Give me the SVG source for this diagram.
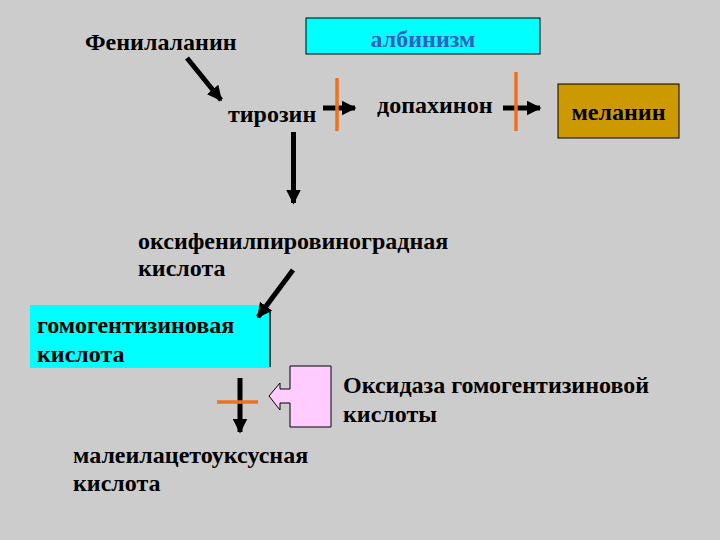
<svg xmlns="http://www.w3.org/2000/svg" width="720" height="540" viewBox="0 0 720 540">
<style>
.t{font-family:"Liberation Serif","Times New Roman",serif;font-size:24px;font-weight:bold;fill:#000}
.c{stroke:#000;stroke-width:5;fill:none}
.inh{stroke:#F07020;stroke-width:3.5;fill:none}
</style>
<defs>
<marker id="ah" viewBox="0 0 10 10" refX="9" refY="5" markerWidth="3" markerHeight="3" markerUnits="strokeWidth" orient="auto">
<path d="M0,0 L10,5 L0,10 Z" fill="#000"/>
</marker>
</defs>
<rect width="720" height="540" fill="#CCCCCC"/>
<g id="albinism">
<rect x="306" y="18" width="234" height="36" fill="#00FFFF" stroke="#000" stroke-width="1"/>
<text class="t" x="423" y="47" text-anchor="middle" style="fill:#3060C0">албинизм</text>
</g>
<g id="phenylalanine"><text class="t" x="85" y="50">Фенилаланин</text></g>
<g id="tyrosine"><text class="t" x="228" y="122">тирозин</text></g>
<g id="dopaquinone"><text class="t" x="377" y="113">допахинон</text></g>
<g id="melanin">
<rect x="558" y="84" width="121" height="54" fill="#CC9900" stroke="#000" stroke-width="1"/>
<text class="t" x="618.5" y="120" text-anchor="middle">меланин</text>
</g>
<g id="hydroxyphenylpyruvate"><text class="t"><tspan x="138" y="249">оксифенилпировиноградная</tspan><tspan x="138" y="276">кислота</tspan></text></g>
<g id="homogentisate">
<rect x="30" y="305" width="240" height="63" fill="#00FFFF"/>
<line x1="270" y1="310" x2="270" y2="367" stroke="#000" stroke-width="1.5"/>
<text class="t"><tspan x="37" y="333">гомогентизиновая</tspan><tspan x="37" y="362">кислота</tspan></text>
</g>
<g id="oxidase">
<polygon points="331,366 290,366 290,389 280,389 280,383 269,396 280,410 280,403 290,403 290,427 331,427" fill="#FFCCFF" stroke="#000" stroke-width="1"/>
<text class="t"><tspan x="343" y="393">Оксидаза гомогентизиновой</tspan><tspan x="343" y="422">кислоты</tspan></text>
</g>
<g id="maleylacetoacetate"><text class="t"><tspan x="73" y="463">малеилацетоуксусная</tspan><tspan x="73" y="491">кислота</tspan></text></g>
<g id="connectors">
<line class="c" x1="187" y1="58" x2="221" y2="100" marker-end="url(#ah)"/>
<line class="c" x1="323" y1="108" x2="355" y2="108" marker-end="url(#ah)"/>
<line class="c" x1="503" y1="108" x2="540" y2="108" marker-end="url(#ah)"/>
<line class="c" x1="293.5" y1="132" x2="293.5" y2="203" stroke-width="6" marker-end="url(#ah)"/>
<line class="c" x1="293" y1="270" x2="258" y2="317" marker-end="url(#ah)"/>
<line class="c" x1="240" y1="378" x2="240" y2="432" stroke-width="5" marker-end="url(#ah)"/>
<line class="inh" x1="337" y1="78" x2="337" y2="131"/>
<line class="inh" x1="516" y1="72" x2="516" y2="131"/>
<line class="inh" x1="217" y1="402" x2="258" y2="402"/>
</g>
</svg>
